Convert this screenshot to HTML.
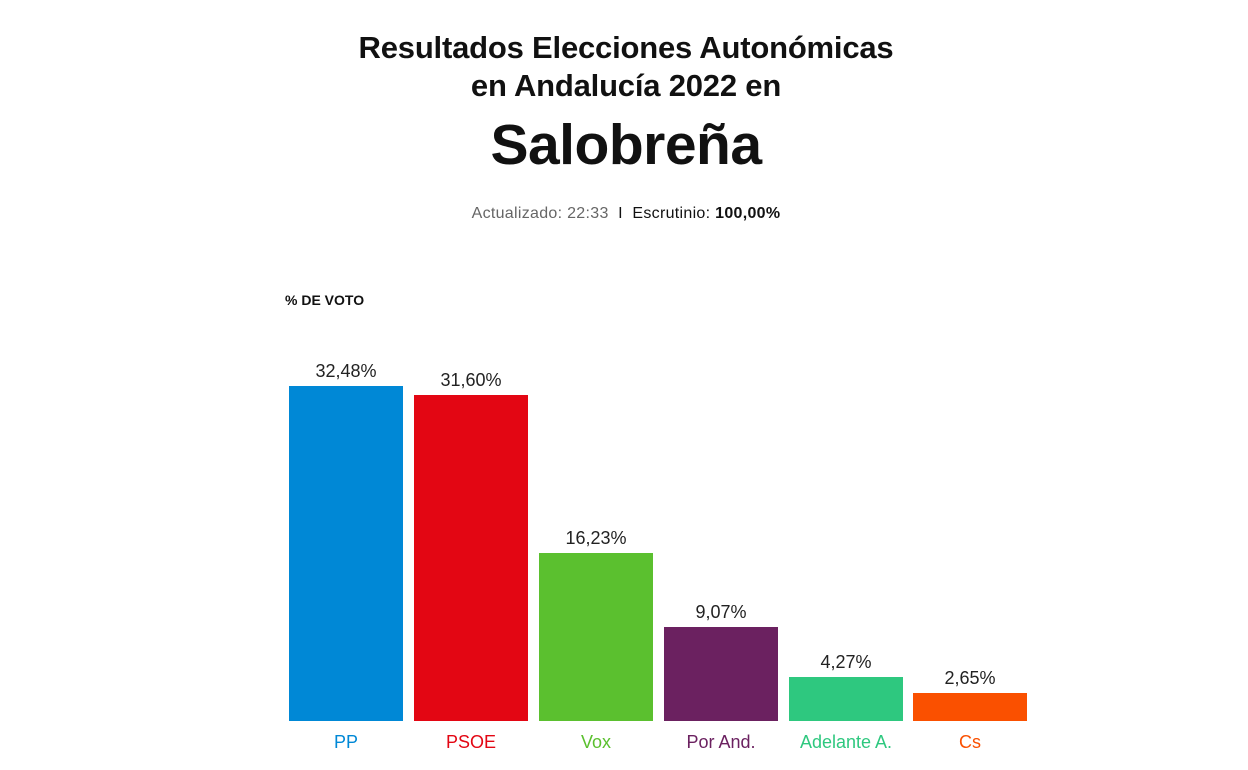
<!DOCTYPE html>
<html><head><meta charset="utf-8"><style>
body{margin:0;width:1248px;height:770px;background:#fff;font-family:"Liberation Sans",sans-serif;position:relative;overflow:hidden;color:#111}
.t{position:absolute;left:0;width:1252px;text-align:center;font-weight:bold}
.b{position:absolute;width:114px;bottom:49px}
.v{position:absolute;width:114px;text-align:center;font-size:18px;color:#222}
.l{position:absolute;width:124px;text-align:center;font-size:18px;top:732px}
</style></head><body>
<div class="t" style="top:30px;font-size:31px;letter-spacing:-0.2px">Resultados Elecciones Autonómicas</div>
<div class="t" style="top:68px;font-size:31px;letter-spacing:-0.2px">en Andalucía 2022 en</div>
<div class="t" style="top:112px;font-size:57px;letter-spacing:-0.5px">Salobreña</div>
<div class="t" style="top:205px;font-size:16px;font-weight:normal;color:#666;letter-spacing:0.3px">Actualizado: 22:33 &nbsp;<span style="color:#111">I &nbsp;Escrutinio: <b>100,00%</b></span></div>
<div style="position:absolute;left:285px;top:292px;font-size:14px;font-weight:bold">% DE VOTO</div>

<div class="b" style="left:289px;top:386px;background:#0088d6"></div>
<div class="b" style="left:414px;top:395px;background:#e30613"></div>
<div class="b" style="left:539px;top:553px;background:#5bc02f"></div>
<div class="b" style="left:664px;top:627px;background:#6b2160"></div>
<div class="b" style="left:789px;top:677px;background:#2ec87f"></div>
<div class="b" style="left:913px;top:693px;background:#fa5000"></div>

<div class="v" style="left:289px;top:361px">32,48%</div>
<div class="v" style="left:414px;top:370px">31,60%</div>
<div class="v" style="left:539px;top:528px">16,23%</div>
<div class="v" style="left:664px;top:602px">9,07%</div>
<div class="v" style="left:789px;top:652px">4,27%</div>
<div class="v" style="left:913px;top:668px">2,65%</div>

<div class="l" style="left:284px;color:#0088d6">PP</div>
<div class="l" style="left:409px;color:#e30613">PSOE</div>
<div class="l" style="left:534px;color:#5bc02f">Vox</div>
<div class="l" style="left:659px;color:#6b2160">Por And.</div>
<div class="l" style="left:784px;color:#2ec87f">Adelante A.</div>
<div class="l" style="left:908px;color:#fa5000">Cs</div>
</body></html>
